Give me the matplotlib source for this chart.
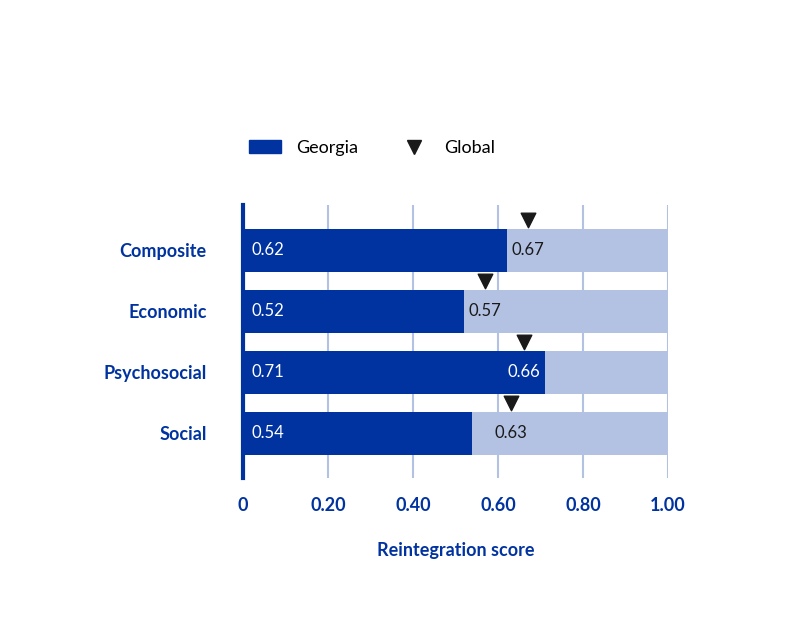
import matplotlib
matplotlib.use("Agg")
import matplotlib.pyplot as plt
from matplotlib.lines import Line2D
from matplotlib.patches import Patch

plt.rcParams["font.family"] = "Lato"

categories = ["Composite", "Economic", "Psychosocial", "Social"]
georgia = [0.62, 0.52, 0.71, 0.54]
global_vals = [0.67, 0.57, 0.66, 0.63]
xticks = [0, 0.2, 0.4, 0.6, 0.8, 1.0]
xticklabels = ["0", "0.20", "0.40", "0.60", "0.80", "1.00"]

dark = "#0033A0"
light = "#B3C2E3"
grid = "#B3C2E3"

fig = plt.figure(figsize=(7.86, 6.27), dpi=100)
ax = fig.add_axes([0.309, 0.238, 0.541, 0.435])
y = list(range(len(categories)))
h = 0.705
for x in xticks[1:]:
    ax.axvline(x, color=grid, lw=1.5, zorder=0)
ax.barh(y, [1.0] * len(y), height=h, color=light, zorder=1)
ax.barh(y, georgia, height=h, color=dark, zorder=2)
ax.scatter(global_vals, [v - 0.5 for v in y], marker="v", s=110, color="#1a1a1a", zorder=3)
for i, (g, gl) in enumerate(zip(georgia, global_vals)):
    ax.text(0.02, i, f"{g:.2f}", color="white", va="center", ha="left", fontsize=12, zorder=4)
    c = "white" if gl < g else "#1a1a1a"
    ax.text(gl, i, f"{gl:.2f}", color=c, va="center", ha="center", fontsize=12, zorder=4)
ax.set_xlim(0, 1.0)
ax.set_ylim(3.73, -0.746)
ax.set_yticks(y)
ax.set_yticklabels(categories, fontsize=13, fontweight="bold", color=dark)
ax.set_xticks(xticks)
ax.set_xticklabels(xticklabels, fontsize=13, fontweight="bold", color=dark)
ax.tick_params(length=0, pad=14)
ax.tick_params(axis="y", pad=26)
for s in ["top", "right", "bottom"]:
    ax.spines[s].set_visible(False)
ax.spines["left"].set_color(dark)
ax.spines["left"].set_linewidth(3)
ax.set_xlabel("Reintegration score", fontsize=13, fontweight="bold", color=dark, labelpad=20)

handles = [Patch(color=dark, label="Georgia"),
           Line2D([], [], marker="v", ls="none", color="#1a1a1a", markersize=10, label="Global")]
fig.legend(handles=handles, loc="center left", bbox_to_anchor=(0.296, 0.764), ncol=2,
           frameon=False, fontsize=13, handlelength=1.8, columnspacing=2.2)
fig.savefig("out.png", dpi=100)
